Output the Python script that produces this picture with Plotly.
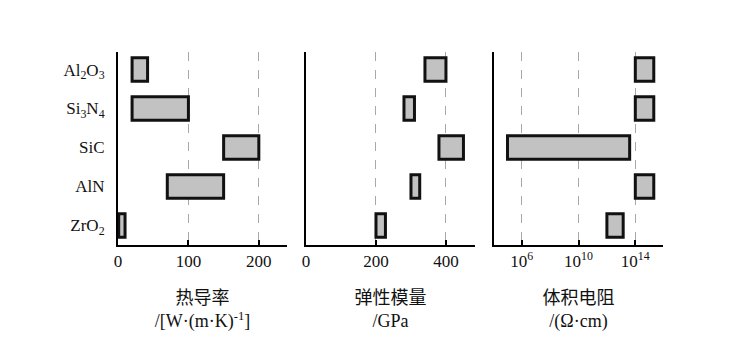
import plotly.graph_objects as go
from plotly.subplots import make_subplots

materials = ["Al<sub>2</sub>O<sub>3</sub>", "Si<sub>3</sub>N<sub>4</sub>", "SiC", "AlN", "ZrO<sub>2</sub>"]

# thermal conductivity W/(m·K): low, high
tc_low = [20, 20, 150, 70, 1]
tc_high = [42, 100, 200, 150, 10]

# elastic modulus GPa
em_low = [340, 280, 380, 300, 200]
em_high = [400, 310, 450, 325, 227]

# volume resistivity Ω·cm
vr_low = [1e14, 1e14, 1e5, 1e14, 1e12]
vr_high = [2e15, 2e15, 4e13, 2e15, 1.4e13]

titles = ["热导率<br>/[W·(m·K)<sup>-1</sup>]", "弹性模量<br>/GPa", "体积电阻<br>/(Ω·cm)"]
log_ticks = [1e6, 1e10, 1e14]
log_ticktext = ["10<sup>6</sup>", "10<sup>10</sup>", "10<sup>14</sup>"]

fig = make_subplots(rows=1, cols=3, shared_yaxes=True, horizontal_spacing=0.0)

fill = "#c2c2c2"
edge = "#111111"
for col, (lo, hi) in enumerate([(tc_low, tc_high), (em_low, em_high), (vr_low, vr_high)], start=1):
    fig.add_trace(go.Bar(
        y=materials, x=[h - l for l, h in zip(lo, hi)], base=lo, orientation="h",
        width=0.6, marker=dict(color=fill, line=dict(color=edge, width=3)),
        showlegend=False, hoverinfo="skip"), row=1, col=col)

serif = "Liberation Serif, Noto Sans CJK SC"
# page has an 8px body margin, so the figure is offset by 8px
off = 8
W, H = 735 - off, 355 - off
left, right = 118 - off, 663 - off
top, bottom = 52 - off, 245 - off
pw = 169
gap = 19
doms = []
for i in range(3):
    a = left + i * (pw + gap)
    doms.append([(a - left) / (right - left), (a + pw - left) / (right - left)])

common_x = dict(showline=True, linecolor="black", linewidth=2, ticks="inside", ticklen=5,
                tickcolor="black", tickwidth=1.5, showgrid=True, gridcolor="#a8a8a8",
                griddash="dash", gridwidth=1, zeroline=False,
                tickfont=dict(family=serif, size=17, color="#111"),
                title_font=dict(family=serif, size=18, color="#111"), title_standoff=21)

fig.update_xaxes(**common_x)
fig.update_xaxes(range=[0, 240], tickvals=[0, 100, 200], domain=doms[0], title_text=titles[0], row=1, col=1)
fig.update_xaxes(range=[0, 483], tickvals=[0, 200, 400], domain=doms[1], title_text=titles[1], row=1, col=2)
fig.update_xaxes(type="log", range=[4.05, 15.95], tickvals=log_ticks, ticktext=log_ticktext,
                 domain=doms[2], title_text=titles[2], row=1, col=3)

fig.update_yaxes(showline=True, linecolor="black", linewidth=2, ticks="", showgrid=False,
                 categoryorder="array", categoryarray=materials[::-1], range=[-0.5, 4.45],
                 zeroline=False)
fig.update_yaxes(tickfont=dict(family=serif, size=17, color="#111"), ticklabelstandoff=8, row=1, col=1)
fig.update_yaxes(showticklabels=False, row=1, col=2)
fig.update_yaxes(showticklabels=False, row=1, col=3)

fig.update_layout(width=W, height=H, margin=dict(l=left, r=W - right, t=top, b=H - bottom),
                  plot_bgcolor="white", paper_bgcolor="white", bargap=0.4)

fig.write_html("out.html")
